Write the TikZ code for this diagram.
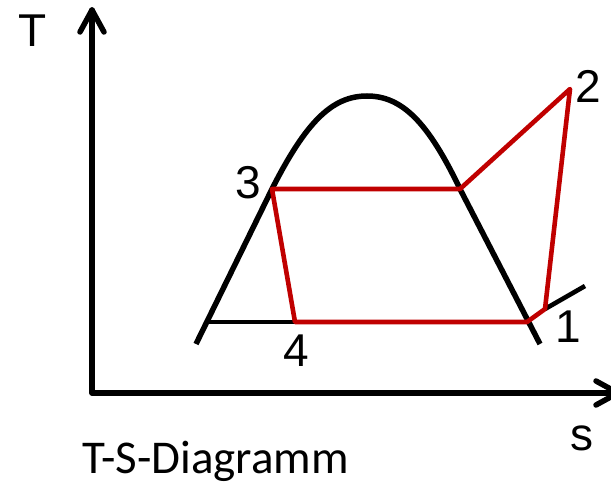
\documentclass[tikz,border=0pt]{standalone}
\usepackage{fontspec}
\setmainfont{Liberation Sans}
\newfontfamily\capfont{Carlito}
\definecolor{cycred}{RGB}{192,0,0}
\begin{document}
\begin{tikzpicture}[x=1pt,y=-1pt,
  axis/.style={line width=5.5pt,line cap=round,line join=round},
  dome/.style={line width=5.5pt,line join=round},
  cyc/.style={cycred,line width=4.6pt,line join=round},
  iso/.style={line width=4.6pt},
  lbl/.style={inner sep=0pt,anchor=base,font=\fontsize{46}{46}\selectfont}]
\useasboundingbox (0,0) rectangle (611,486);
\clip (0,0) rectangle (611,486);
% axes
\coordinate (O) at (92,393);
\coordinate (Ytip) at (92,10);
\coordinate (Xtip) at (618,393);
\coordinate (Yl) at (80,32); \coordinate (Yr) at (104,32);
\coordinate (Xu) at (596,381); \coordinate (Xd) at (596,405);
\draw[axis] (Ytip) -- (O) -- (Xtip);
\draw[axis] (Yl) -- (Ytip) -- (Yr);
\draw[axis] (Xu) -- (Xtip) -- (Xd);
% saturation dome
\coordinate (DL) at (196,344);
\coordinate (DR) at (540,344);
\coordinate (P3) at (272,189);
\coordinate (PV) at (460,189);
\coordinate (Top) at (367,96);
\draw[dome] (DL) -- (P3) .. controls (306,122) and (332,96) .. (Top)
  .. controls (402,96) and (428,122) .. (PV) -- (DR);
% isobar extensions (black)
\coordinate (B4) at (207,322);
\coordinate (P4) at (295,322);
\coordinate (P1a) at (527,322);
\coordinate (P1) at (545,309);
\coordinate (E1) at (585,286);
\draw[iso] (B4) -- (P4);
\draw[iso] (P1) -- (E1);
% cycle (red)
\coordinate (P2) at (570,89);
\draw[cyc] (P3) -- (PV) -- (P2) -- (P1) -- (P1a) -- (P4) -- cycle;
% labels
\node[lbl] (lT) at (33,47) {T};
\node[lbl] (ls) at (582,450) {s};
\node[lbl] (l2) at (588,103) {2};
\node[lbl] (l1) at (568,343) {1};
\node[lbl] (l3) at (248,199) {3};
\node[lbl] (l4) at (296,367) {4};
\node[inner sep=0pt,anchor=base west,font=\capfont\fontsize{47}{47}\selectfont] (cap) at (82,474) {T-S-Diagramm};
\end{tikzpicture}
\end{document}
